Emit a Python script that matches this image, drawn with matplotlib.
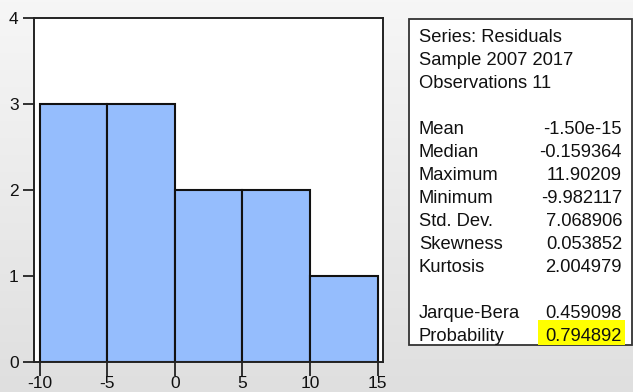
import numpy as np
import matplotlib
matplotlib.use("Agg")
import matplotlib.pyplot as plt
from matplotlib.patches import Rectangle

# ---- data ----
bin_edges = [-10, -5, 0, 5, 10, 15]
counts = [3, 3, 2, 2, 1]
x_ticks = [-10, -5, 0, 5, 10, 15]
y_ticks = [0, 1, 2, 3, 4]

header_lines = ["Series: Residuals", "Sample 2007 2017", "Observations 11"]
stat_labels = ["Mean", "Median", "Maximum", "Minimum", "Std. Dev.", "Skewness", "Kurtosis"]
stat_values = ["-1.50e-15", "-0.159364", "11.90209", "-9.982117", "7.068906", "0.053852", "2.004979"]
test_labels = ["Jarque-Bera", "Probability"]
test_values = ["0.459098", "0.794892"]

W, H = 633, 392
plt.rcParams['font.family'] = ['Liberation Sans', 'DejaVu Sans']
fig = plt.figure(figsize=(W / 100, H / 100), dpi=100)

# background gradient + stats panel in pixel coordinates
bg = fig.add_axes([0, 0, 1, 1], zorder=0)
bg.set_xlim(0, W)
bg.set_ylim(H, 0)
bg.axis('off')
grad = np.linspace(0.965, 0.875, 256).reshape(-1, 1)
bg.imshow(np.dstack([grad, grad, grad]), extent=[0, W, H, 0], aspect='auto', zorder=0)

# stats box
bg.add_patch(Rectangle((409, 19), 223, 326, facecolor='white', edgecolor='#333333', lw=1.3, zorder=1))
# highlight
bg.add_patch(Rectangle((538, 320), 87, 25, facecolor='#ffff00', edgecolor='none', zorder=2))

fs = 13.2
tc = '#111111'
lx, rx = 419, 622
y0, dy = 42, 23
row = 0
for t in header_lines:
    bg.text(lx, y0 + row * dy, t, fontsize=fs, color=tc, va='baseline', ha='left', zorder=3)
    row += 1
row += 1
for lab, val in zip(stat_labels, stat_values):
    bg.text(lx, y0 + row * dy, lab, fontsize=fs, color=tc, va='baseline', ha='left', zorder=3)
    bg.text(rx, y0 + row * dy, val, fontsize=fs, color=tc, va='baseline', ha='right', zorder=3)
    row += 1
row += 1
for lab, val in zip(test_labels, test_values):
    bg.text(lx, y0 + row * dy, lab, fontsize=fs, color=tc, va='baseline', ha='left', zorder=3)
    bg.text(rx, y0 + row * dy, val, fontsize=fs, color=tc, va='baseline', ha='right', zorder=3)
    row += 1

# histogram axes
left, right, top, bottom = 34, 383, 18, 361.5
ax = fig.add_axes([left / W, (H - bottom) / H, (right - left) / W, (bottom - top) / H], zorder=1)
ax.set_facecolor('white')
widths = np.diff(bin_edges)
ax.bar(bin_edges[:-1], counts, width=widths, align='edge', color='#95bdfd',
       edgecolor='#111111', linewidth=1.5)
ax.set_xlim(-10.41, 15.39)
ax.set_ylim(0, 4)
ax.set_xticks(x_ticks)
ax.set_xticklabels([str(v) for v in x_ticks])
ax.set_yticks(y_ticks)
ax.set_yticklabels([str(v) for v in y_ticks])
for s in ax.spines.values():
    s.set_color('#222222')
    s.set_linewidth(1.4)
ax.tick_params(axis='x', direction='out', length=10, width=1.3, color='#222222',
               labelsize=12.5, labelcolor=tc, pad=0.5)
ax.tick_params(axis='y', direction='out', length=8, width=1.3, color='#222222',
               labelsize=12.5, labelcolor=tc, pad=3)

fig.savefig('out.png', dpi=100)
